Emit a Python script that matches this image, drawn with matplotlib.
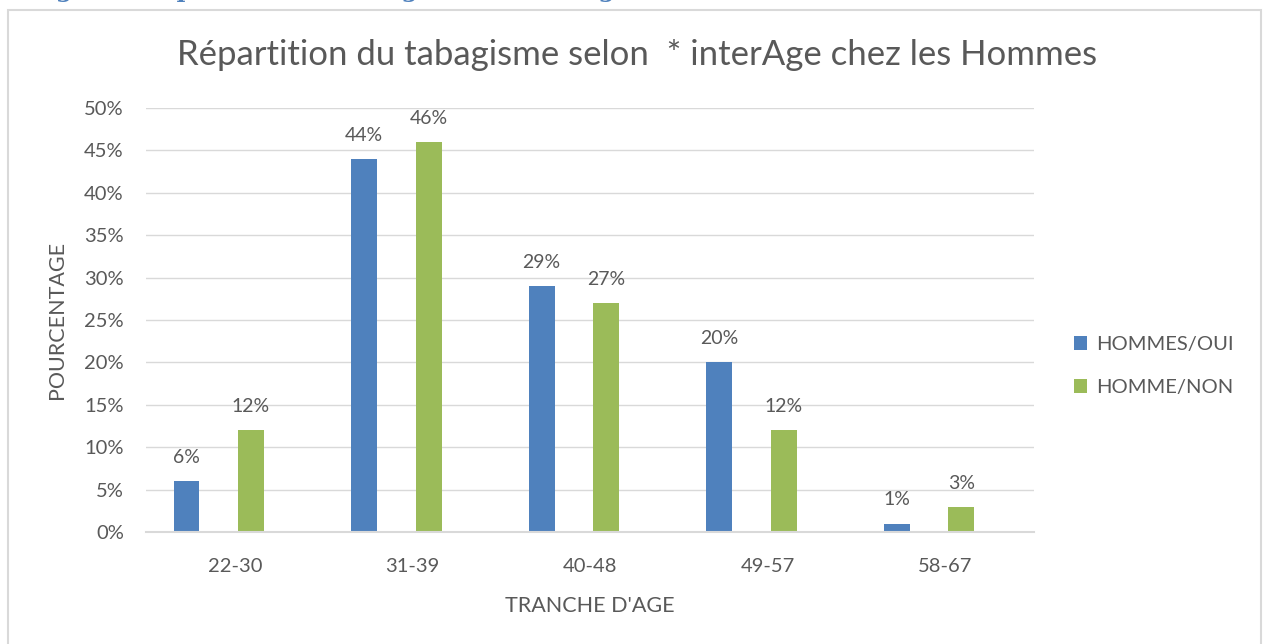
import matplotlib.pyplot as plt
from matplotlib.patches import Rectangle

plt.rcParams['font.family'] = ['Lato', 'DejaVu Sans']

categories = ['22-30', '31-39', '40-48', '49-57', '58-67']
oui = [6, 44, 29, 20, 1]
non = [12, 46, 27, 12, 3]

blue = '#4F81BD'
green = '#9BBB59'
grey = '#595959'

W, H = 1263, 644
fig = plt.figure(figsize=(W / 100, H / 100), dpi=100)

# chart frame
fig.patches.append(Rectangle((8 / W, -0.05), (1261 - 8) / W, 1.05 - 10 / H,
                             transform=fig.transFigure, fill=False,
                             edgecolor='#D9D9D9', linewidth=1.5))

# heading of the document, cut off at the top as in the source
fig.text(30 / W, 1 + 3 / H, "Figure : Répartition du tabagisme selon l'âge chez les Hommes",
         family='DejaVu Serif', fontweight='bold', color=blue, fontsize=17,
         ha='left', va='baseline')

ax = fig.add_axes([146 / W, 1 - 532 / H, (1034 - 146) / W, (532 - 108) / H])
x = range(len(categories))
bw = 0.146
# excel-like cluster of four slots, two of them empty
b1 = ax.bar([i - 0.272 for i in x], oui, bw, color=blue, label='HOMMES/OUI', zorder=3)
b2 = ax.bar([i + 0.091 for i in x], non, bw, color=green, label='HOMME/NON', zorder=3)

for bars, vals in ((b1, oui), (b2, non)):
    for r, v in zip(bars, vals):
        ax.annotate(f'{v}%', (r.get_x() + r.get_width() / 2, v), xytext=(0, 13),
                    textcoords='offset points', ha='center', va='baseline',
                    fontsize=14, color=grey)

ax.set_xlim(-0.5, len(categories) - 0.5)
ax.set_ylim(0, 50)
ax.set_yticks(range(0, 51, 5))
ax.set_yticklabels([f'{t}%' for t in range(0, 51, 5)])
ax.set_xticks(list(x))
ax.set_xticklabels(categories)
ax.tick_params(length=0, labelsize=14.5, labelcolor=grey)
ax.tick_params(axis='y', pad=16)
ax.tick_params(axis='x', pad=19)
ax.grid(axis='y', color='#D9D9D9', linewidth=1, zorder=0)
for s in ('top', 'right', 'left'):
    ax.spines[s].set_visible(False)
ax.spines['bottom'].set_color('#D9D9D9')
ax.spines['bottom'].set_linewidth(1.5)
ax.spines['bottom'].set_zorder(4)

ax.set_xlabel("TRANCHE D'AGE", fontsize=15.5, color=grey, labelpad=15)
ax.set_ylabel('POURCENTAGE', fontsize=15.5, color=grey, labelpad=12)

fig.text(637 / W, 1 - 55 / H, 'Répartition du tabagisme selon  * interAge chez les Hommes',
         ha='center', va='center', fontsize=25, color=grey)

fig.legend(handles=[b1, b2], loc='center left', bbox_to_anchor=(1056 / W, 1 - 366 / H),
           frameon=False, fontsize=14.5, labelcolor=grey, handlelength=0.65,
           handleheight=0.65, handletextpad=0.45, labelspacing=1.3)

fig.savefig('out.png', dpi=100, facecolor='white')
